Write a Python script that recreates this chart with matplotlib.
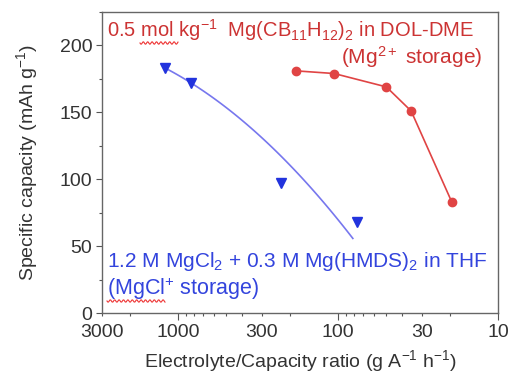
import numpy as np
import matplotlib.pyplot as plt
from matplotlib.ticker import FixedLocator, LogLocator, NullFormatter, MultipleLocator

plt.rcParams['font.family'] = ['Liberation Sans', 'DejaVu Sans']
plt.rcParams['mathtext.fontset'] = 'custom'
plt.rcParams['mathtext.rm'] = 'Liberation Sans'
plt.rcParams['mathtext.it'] = 'Liberation Sans:italic'

# Mg(CB11H12)2 in DOL-DME
red_ratio = [184, 106, 50, 35, 19.5]
red_capacity = [181, 179, 169, 151, 83]

# MgCl2 + Mg(HMDS)2 in THF
blue_ratio = [1210, 833, 228, 76]
blue_capacity = [183, 172, 97, 68]

# points along the THF trend line
blue_fit_ratio = [1180, 833, 548, 411, 232, 166, 81]
blue_fit_capacity = [183, 171, 157, 146, 119, 99, 56]

x_ticks = [3000, 1000, 300, 100, 30, 10]
x_ticklabels = ['3000', '1000', '300', '100', '30', '10']

red_txt = '#cc3333'
blue_txt = '#3344dd'
grey = '#333333'

fig = plt.figure(figsize=(5.12, 3.74), dpi=100)
ax = fig.add_axes([0.199, 0.163, 0.774, 0.805])

# smooth quadratic trend (in log x) through the read-off line points
coef = np.polyfit(np.log10(blue_fit_ratio), blue_fit_capacity, 2)
lx = np.linspace(np.log10(blue_fit_ratio[0]), np.log10(blue_fit_ratio[-1]), 100)
ax.plot(10 ** lx, np.polyval(coef, lx), '-', color='#7777ee', lw=1.2)
ax.plot(blue_ratio, blue_capacity, 'v', color='#2233dd', ms=7, ls='none')
ax.plot(red_ratio, red_capacity, '-o', color='#e04444', lw=1.2, ms=6)

ax.set_xscale('log')
ax.set_xlim(3000, 10)
ax.set_ylim(0, 225)
ax.xaxis.set_major_locator(FixedLocator([1000, 100, 10]))
ax.xaxis.set_minor_locator(LogLocator(base=10, subs=np.arange(2, 10)))
ax.xaxis.set_minor_formatter(NullFormatter())
ax.xaxis.set_major_formatter(NullFormatter())
for v, lab in zip(x_ticks, x_ticklabels):
    ax.text(v, -0.035, lab, transform=ax.get_xaxis_transform(),
            ha='center', va='top', fontsize=14, color=grey)

ax.yaxis.set_major_locator(MultipleLocator(50))
ax.yaxis.set_minor_locator(MultipleLocator(25))
ax.tick_params(axis='both', which='major', length=4, width=0.8, color='#555555',
               labelsize=14, labelcolor=grey, pad=3)
ax.tick_params(axis='both', which='minor', length=2.5, width=0.8, color='#555555')
ax.tick_params(axis='x', which='major', length=5)
for s in ax.spines.values():
    s.set_color('#666666')
    s.set_linewidth(1.0)

ax.set_xlabel('Electrolyte/Capacity ratio (g A$^{-1}$ h$^{-1}$)', fontsize=14,
              color=grey, labelpad=17)
ax.set_ylabel('Specific capacity (mAh g$^{-1}$)', fontsize=14, color=grey,
              labelpad=14)

ax.text(0.012, 0.94, '0.5 mol kg$^{-1}$  Mg(CB$_{11}$H$_{12}$)$_2$ in DOL-DME',
        transform=ax.transAxes, ha='left', va='center', fontsize=14.5, color=red_txt)
ax.text(0.96, 0.85, '(Mg$^{2+}$ storage)', transform=ax.transAxes,
        ha='right', va='center', fontsize=15, color=red_txt)
ax.text(0.012, 0.17, '1.2 M MgCl$_2$ + 0.3 M Mg(HMDS)$_2$ in THF',
        transform=ax.transAxes, ha='left', va='center', fontsize=15, color=blue_txt)
ax.text(0.012, 0.08, '(MgCl$^{+}$ storage)', transform=ax.transAxes,
        ha='left', va='center', fontsize=15.5, color=blue_txt)


def squiggle(x0, x1, y):
    # spell-check style wavy underline, in figure pixels
    xs = np.linspace(x0, x1, 80)
    ys = y + 1.2 * np.sin((xs - x0) / 2.2 * np.pi)
    fig.add_artist(plt.Line2D(xs / 512, 1 - ys / 374, color='#ee3333', lw=0.8))


squiggle(140, 178, 43)
squiggle(107, 165, 301)

fig.savefig('out.png', dpi=100)
